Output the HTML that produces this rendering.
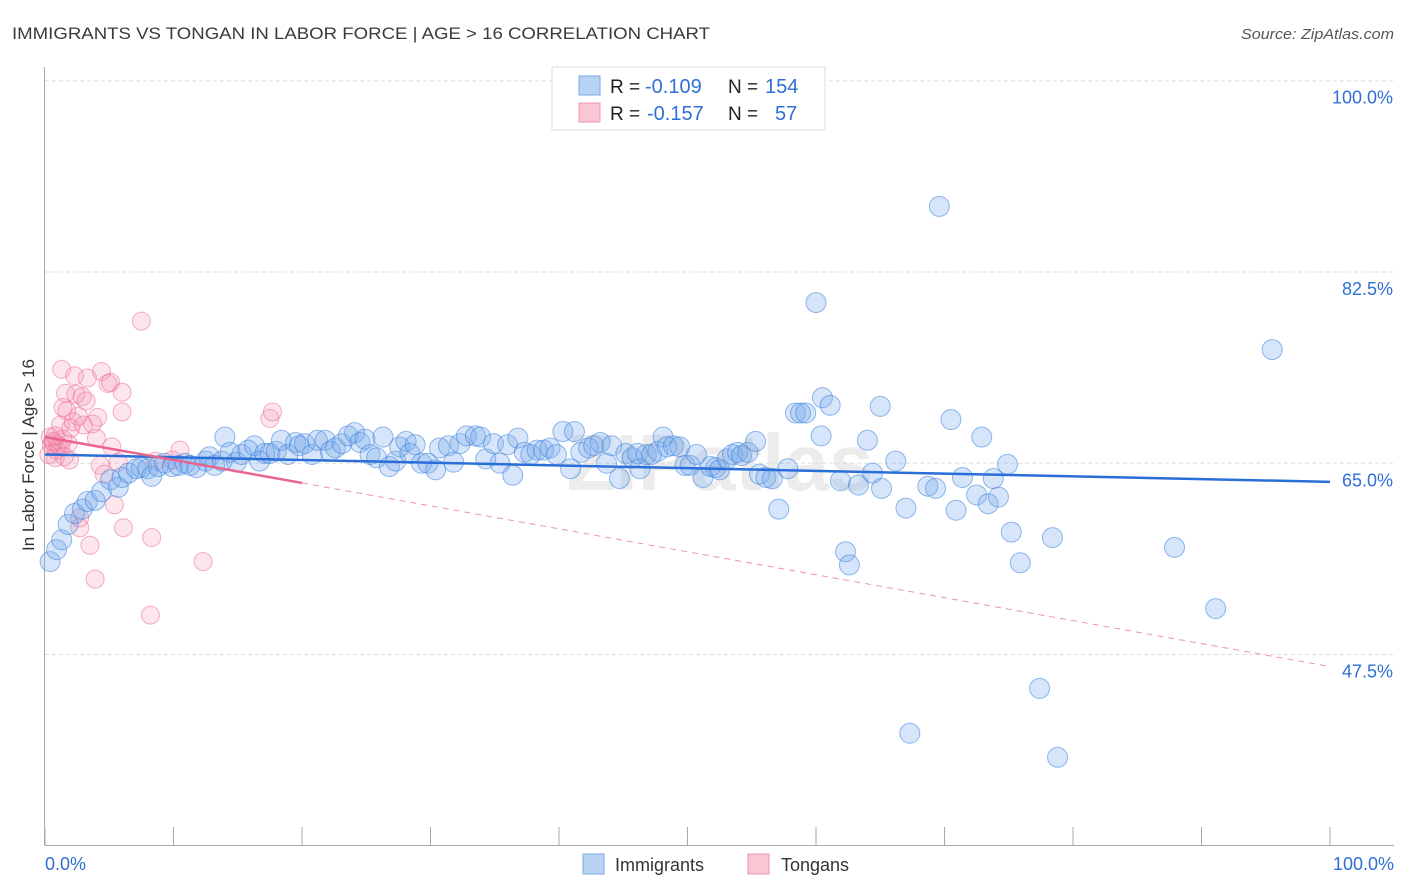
<!DOCTYPE html>
<html><head><meta charset="utf-8"><style>
body{margin:0;background:#fff;font-family:"Liberation Sans",sans-serif;}
svg{display:block}
</style></head><body>
<svg id="chart" width="1406" height="892">
<text x="12" y="39" font-size="17" fill="#3a3a3a" textLength="698" lengthAdjust="spacingAndGlyphs">IMMIGRANTS VS TONGAN IN LABOR FORCE | AGE &gt; 16 CORRELATION CHART</text>
<text x="1394" y="39" font-size="15" fill="#555" font-style="italic" text-anchor="end" textLength="153" lengthAdjust="spacingAndGlyphs">Source: ZipAtlas.com</text>
<text x="720" y="490" font-size="80" fill="#ececec" text-anchor="middle" font-weight="bold">ZIPatlas</text>
<g id="grid"></g>
<g id="axes"></g>
<g id="pts"></g>
<g id="trend"></g>
<text transform="translate(34,455) rotate(-90)" font-size="17" fill="#333" text-anchor="middle">In Labor Force | Age &gt; 16</text>
<g>
<rect x="552" y="67" width="273" height="63" fill="#fff" stroke="#ddd"/>
<rect x="579" y="76" width="21" height="19" fill="#b9d3f5" stroke="#7aa9e6"/>
<rect x="579" y="103" width="21" height="19" fill="#f9c6d4" stroke="#ee94ae"/>
<text x="610" y="93" font-size="19" fill="#222">R =</text>
<text x="645" y="93" font-size="20" fill="#2f6fd6">-0.109</text>
<text x="728" y="93" font-size="19" fill="#222">N =</text>
<text x="765" y="93" font-size="20" fill="#2f6fd6">154</text>
<text x="610" y="120" font-size="19" fill="#222">R =</text>
<text x="647" y="120" font-size="20" fill="#2f6fd6">-0.157</text>
<text x="728" y="120" font-size="19" fill="#222">N =</text>
<text x="775" y="120" font-size="20" fill="#2f6fd6">57</text>
</g>
<g>
<rect x="583" y="854" width="21" height="20" fill="#b9d3f5" stroke="#7aa9e6"/>
<text x="615" y="871" font-size="18" fill="#333">Immigrants</text>
<rect x="748" y="854" width="21" height="20" fill="#f9c6d4" stroke="#ee94ae"/>
<text x="781" y="871" font-size="18" fill="#333">Tongans</text>
</g>
</svg>
<script>
const yTicks=[100,82.5,65,47.5];
const yTickLabels=["100.0%","82.5%","65.0%","47.5%"];
const xEndLabels=["0.0%","100.0%"];
const immX=[0.4,0.9,1.3,1.8,2.3,2.9,3.3,3.9,4.4,5.1,5.7,6.0,6.5,7.1,7.5,8.0,8.3,8.8,9.3,9.9,10.4,10.9,11.3,11.8,12.5,12.8,13.2,13.8,14.0,14.4,14.9,15.3,15.8,16.3,16.7,17.1,17.5,18.0,18.4,18.9,19.5,19.8,20.2,20.8,21.2,21.8,22.2,22.6,23.1,23.6,24.1,24.5,24.9,25.3,25.8,26.3,26.8,27.3,27.6,28.1,28.4,28.8,29.3,29.8,30.4,30.7,31.4,31.8,32.3,32.8,33.5,33.9,34.3,34.9,35.4,36.0,36.4,36.8,37.3,37.8,38.3,38.8,39.3,39.8,40.3,40.9,41.2,41.7,42.3,42.7,43.2,43.7,44.1,44.7,45.2,45.7,46.1,46.3,46.8,47.2,47.7,48.1,48.4,48.9,49.4,49.8,50.2,50.7,51.2,51.8,52.2,52.5,53.1,53.5,53.9,54.2,54.7,55.3,55.6,56.1,56.6,57.1,57.8,58.4,58.8,59.2,60.0,60.5,60.4,61.1,61.9,62.3,62.6,63.3,64.0,64.4,65.0,65.1,66.2,67.0,67.3,68.7,69.3,69.6,70.5,70.9,71.4,72.5,72.9,73.4,73.8,74.2,74.9,75.2,75.9,77.4,78.4,78.8,87.9,91.1,95.5];
const immY=[56.0,57.1,58.0,59.4,60.4,60.8,61.5,61.6,62.4,63.5,62.8,63.7,64.1,64.5,64.6,64.5,63.8,64.7,65.0,64.7,64.8,65.0,64.8,64.6,65.2,65.6,64.8,65.2,67.4,66.0,65.1,65.8,66.2,66.6,65.2,65.9,65.9,66.1,67.1,65.8,66.9,66.6,66.8,65.8,67.1,67.1,66.1,66.4,66.8,67.5,67.8,66.9,67.2,65.8,65.5,67.4,64.7,65.2,66.5,67.0,65.9,66.7,65.0,65.0,64.4,66.4,66.6,65.1,66.8,67.5,67.5,67.4,65.4,66.8,65.0,66.7,63.9,67.3,66.0,65.8,66.2,66.2,66.4,65.8,67.9,64.5,67.9,66.0,66.4,66.6,66.9,65.0,66.6,63.6,65.9,65.5,65.9,64.5,65.8,65.8,66.1,67.4,66.5,66.6,66.5,64.8,64.8,65.8,63.7,64.7,64.6,64.4,65.4,65.8,66.0,65.7,66.0,67.0,64.0,63.7,63.6,60.8,64.5,69.6,69.6,69.6,79.7,71.0,67.5,70.3,63.4,56.9,55.7,63.0,67.1,64.1,70.2,62.7,65.2,60.9,40.3,62.9,62.7,88.5,69.0,60.7,63.7,62.1,67.4,61.3,63.6,61.9,64.9,58.7,55.9,44.4,58.2,38.1,57.3,51.7,75.4];
const tonX=[0.4,0.5,0.7,0.8,0.9,1.2,1.2,1.3,1.4,1.6,1.7,1.8,1.9,2.0,2.2,2.3,2.4,2.6,2.7,2.7,2.9,3.0,3.2,3.3,3.5,3.7,3.9,4.0,4.1,4.3,4.4,4.6,4.9,5.1,5.2,5.4,5.7,6.0,6.0,6.1,7.5,8.3,8.2,8.6,9.9,10.5,12.3,17.5,17.7,0.6,1.0,1.5,0.3,1.4,0.8];
const tonY=[67.4,66.7,66.9,65.5,66.2,68.5,66.5,73.6,70.1,71.4,69.8,66.8,65.3,68.2,68.8,73.0,71.3,69.3,60.0,59.1,71.1,68.5,70.7,72.8,57.5,68.6,54.4,67.3,69.2,64.8,73.4,64.0,72.3,72.4,66.5,61.2,65.1,71.5,69.7,59.1,78.0,58.2,51.1,65.2,65.3,66.2,56.0,69.1,69.7,67.0,66.7,65.6,65.8,67.2,67.5];
const immTrend=[65.8,63.3];
const tonTrend=[67.4,-0.21];

const NS="http://www.w3.org/2000/svg";
const X=v=>45+v*12.85;
const Y=v=>80.7+(100-v)*10.93;
function mk(tag,attrs,parent){const e=document.createElementNS(NS,tag);for(const k in attrs)e.setAttribute(k,attrs[k]);document.getElementById(parent).appendChild(e);return e;}
yTicks.forEach((t,i)=>{
  const l=mk('line',{x1:45,x2:1394,y1:Y(t),y2:Y(t),stroke:'#ddd','stroke-dasharray':'4,3'},'grid');
  
  
  const tx=mk('text',{x:1393,y:Y(t)+23,'font-size':18,fill:'#2f6fd6','text-anchor':'end'},'grid');
  tx.textContent=yTickLabels[i];
  
  
});
const ax=mk('line',{x1:45,x2:1394,y1:845.5,y2:845.5,stroke:'#aaa'},'axes');


const ay=mk('line',{x1:44.5,x2:44.5,y1:67,y2:845.5,stroke:'#aaa'},'axes');


for(let i=0;i<=10;i++){
  const t=mk('line',{x1:X(i*10),x2:X(i*10),y1:827,y2:845,stroke:'#aaa'},'axes');
  
  
}
[0,100].forEach((v,i)=>{
  const t=mk('text',{x:i?1394:45,y:870,'font-size':18,fill:'#2f6fd6','text-anchor':i?'end':'start'},'axes');
  t.textContent=xEndLabels[i];
  
  
});
tonX.forEach((x,i)=>{
  const c=mk('circle',{cx:X(x),cy:Y(tonY[i]),r:9,fill:'rgba(244,150,178,0.25)',stroke:'rgba(236,110,150,0.55)','stroke-width':1},'pts');
  
  
});
immX.forEach((x,i)=>{
  const c=mk('circle',{cx:X(x),cy:Y(immY[i]),r:10,fill:'rgba(120,170,235,0.3)',stroke:'rgba(60,130,220,0.55)','stroke-width':1},'pts');
  
  
});
const bl=mk('line',{x1:X(0),y1:Y(immTrend[0]),x2:X(100),y2:Y(immTrend[1]),stroke:'#2a6fd8','stroke-width':2.5},'trend');


const ps=mk('line',{x1:X(0),y1:Y(tonTrend[0]),x2:X(20),y2:Y(tonTrend[0]+tonTrend[1]*20),stroke:'#e8648e','stroke-width':2.5},'trend');


const pd=mk('line',{x1:X(20),y1:Y(tonTrend[0]+tonTrend[1]*20),x2:X(100),y2:Y(tonTrend[0]+tonTrend[1]*100),stroke:'#ee94ae','stroke-width':1,'stroke-dasharray':'6,5'},'trend');


</script>
</body></html>
